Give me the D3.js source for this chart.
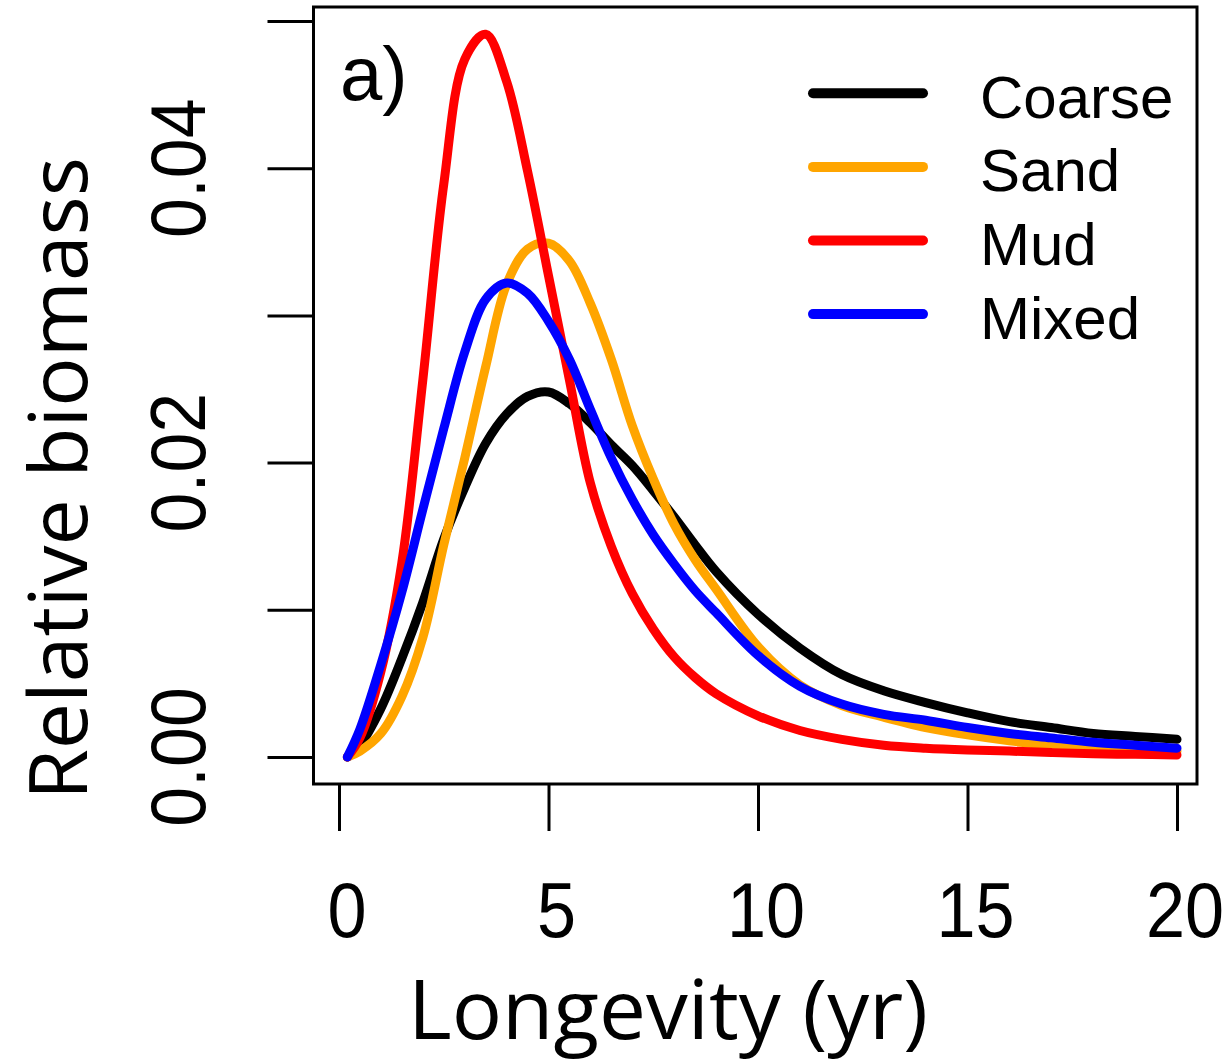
<!DOCTYPE html>
<html>
<head>
<meta charset="utf-8">
<script src="https://cdn.jsdelivr.net/npm/d3@7"></script>
<style>
  html, body { margin: 0; padding: 0; background: #ffffff; }
  svg { display: block; }
</style>
</head>
<body>
<svg id="chart" width="1225" height="1063"></svg>
<script>
// Longevity (years) at which relative biomass is given
const ages = [0.2, 0.5, 1, 1.5, 2, 2.5, 3, 3.5, 4, 4.5, 5, 5.5, 6, 6.5, 7, 7.5, 8, 8.5, 9,
              10, 11, 12, 13, 14, 15, 16, 17, 18, 19, 20];

// Relative biomass per habitat
const coarse = [0, 0.0008, 0.0033, 0.0067, 0.0105, 0.0148, 0.0183, 0.0213, 0.0233, 0.0245, 0.0248,
                0.0240, 0.0227, 0.0212, 0.0198, 0.0181, 0.0163, 0.0144, 0.0126,
                0.0097, 0.0074, 0.0056, 0.0045, 0.0037, 0.0030, 0.0024, 0.0020, 0.0016, 0.0014, 0.0012];
const sand   = [0, 0.0004, 0.0016, 0.0041, 0.0081, 0.0144, 0.0203, 0.0265, 0.0321, 0.0345, 0.0349,
                0.0337, 0.0308, 0.0270, 0.0225, 0.0189, 0.0158, 0.0134, 0.0114,
                0.0075, 0.0049, 0.0035, 0.0027, 0.0020, 0.0015, 0.0011, 0.0008, 0.0006, 0.0005, 0.0004];
const mud    = [0, 0.0013, 0.0058, 0.0132, 0.0256, 0.0389, 0.0474, 0.0491, 0.0459, 0.0398, 0.0327,
                0.0256, 0.0186, 0.0143, 0.0111, 0.0087, 0.0068, 0.0054, 0.0043,
                0.0028, 0.0018, 0.0012, 0.0008, 0.0006, 0.00048, 0.0004, 0.0003, 0.00022, 0.00018, 0.00014];
const mixed  = [0, 0.0019, 0.0063, 0.0112, 0.0168, 0.0223, 0.0275, 0.0311, 0.0322, 0.0315, 0.0296,
                0.0270, 0.0236, 0.0203, 0.0175, 0.0151, 0.0131, 0.0113, 0.0098,
                0.0069, 0.0048, 0.0036, 0.0029, 0.0025, 0.0020, 0.0016, 0.0013, 0.0010, 0.0008, 0.0006];

const habitats = ["Coarse", "Sand", "Mud", "Mixed"];
const habitatColors = ["#000000", "#FFA500", "#FF0000", "#0000FF"];

const xTicks = [0, 5, 10, 15, 20];
const yTicks = [0, 0.01, 0.02, 0.03, 0.04, 0.05];
const yLabelTicks = [0, 0.02, 0.04];

const panelLabel = "a)";
const xTitle = "Longevity (yr)";
const yTitle = "Relative biomass";

// ---- layout ----
const svg = d3.select("#chart");
const box = { left: 313.5, top: 7, right: 1197, bottom: 784 };

const x = d3.scaleLinear().domain([0, 20]).range([339, 1177]);
const y = d3.scaleLinear().domain([0, 0.05]).range([757, 21]);

svg.append("rect").attr("width", 1225).attr("height", 1063).attr("fill", "#ffffff");

// ---- curves ----
const seriesValues = [coarse, sand, mud, mixed];
const line = d3.line()
  .x(d => x(d[0]))
  .y(d => y(d[1]))
  .curve(d3.curveCatmullRom.alpha(0.5));

const curves = svg.append("g");
seriesValues.forEach((vals, i) => {
  curves.append("path")
    .datum(ages.map((a, j) => [a, vals[j]]))
    .attr("d", line)
    .attr("fill", "none")
    .attr("stroke", habitatColors[i])
    .attr("stroke-width", 9)
    .attr("stroke-linecap", "round")
    .attr("stroke-linejoin", "round");
});

// ---- frame ----
svg.append("rect")
  .attr("x", box.left).attr("y", box.top)
  .attr("width", box.right - box.left).attr("height", box.bottom - box.top)
  .attr("fill", "none").attr("stroke", "#000").attr("stroke-width", 3);

// ---- axes (ticks outward from the frame) ----
const yAxis = svg.append("g")
  .attr("transform", `translate(${box.left},0)`)
  .call(d3.axisLeft(y).tickValues(yTicks).tickSize(46).tickFormat(""));
yAxis.select(".domain").remove();
yAxis.selectAll(".tick line").attr("stroke", "#000").attr("stroke-width", 3);

const xAxis = svg.append("g")
  .attr("transform", `translate(0,${box.bottom})`)
  .call(d3.axisBottom(x).tickValues(xTicks).tickSize(47).tickFormat(""));
xAxis.select(".domain").remove();
xAxis.selectAll(".tick line").attr("stroke", "#000").attr("stroke-width", 3);

const tickFont = "'Liberation Sans', Arial, sans-serif";

svg.append("g").selectAll("text")
  .data(yLabelTicks)
  .join("text")
  .attr("transform", d => `translate(205,${y(d)}) rotate(-90) scale(0.92,1)`)
  .attr("text-anchor", "middle")
  .attr("font-family", tickFont)
  .attr("font-size", 78)
  .attr("fill", "#000")
  .text(d => d3.format(".2f")(d));

svg.append("g").selectAll("text")
  .data(xTicks)
  .join("text")
  .attr("transform", d => `translate(${x(d) + 8},937) scale(0.9,1)`)
  .attr("text-anchor", "middle")
  .attr("font-family", tickFont)
  .attr("font-size", 78)
  .attr("fill", "#000")
  .text(d => d);

// ---- axis titles ----
svg.append("text")
  .attr("x", 408).attr("y", 1039)
  .attr("font-family", "'Open Sans', sans-serif")
  .attr("font-size", 82)
  .attr("textLength", 520)
  .attr("lengthAdjust", "spacingAndGlyphs")
  .attr("fill", "#000")
  .text(xTitle);

svg.append("text")
  .attr("transform", "translate(87,800) rotate(-90)")
  .attr("font-family", "'Open Sans', sans-serif")
  .attr("font-size", 81)
  .attr("textLength", 643)
  .attr("lengthAdjust", "spacingAndGlyphs")
  .attr("fill", "#000")
  .text(yTitle);

// ---- panel label ----
svg.append("text")
  .attr("x", 340).attr("y", 100)
  .attr("font-family", tickFont)
  .attr("font-size", 76)
  .attr("fill", "#000")
  .text(panelLabel);

// ---- legend ----
const legend = svg.append("g");
habitats.forEach((name, i) => {
  const cy = 93.3 + i * 73.6;
  legend.append("line")
    .attr("x1", 813).attr("x2", 923)
    .attr("y1", cy).attr("y2", cy)
    .attr("stroke", habitatColors[i])
    .attr("stroke-width", 10)
    .attr("stroke-linecap", "round");
  legend.append("text")
    .attr("x", 980).attr("y", cy + 24.5)
    .attr("font-family", tickFont)
    .attr("font-size", 60)
    .attr("fill", "#000")
    .text(name);
});
</script>
</body>
</html>
